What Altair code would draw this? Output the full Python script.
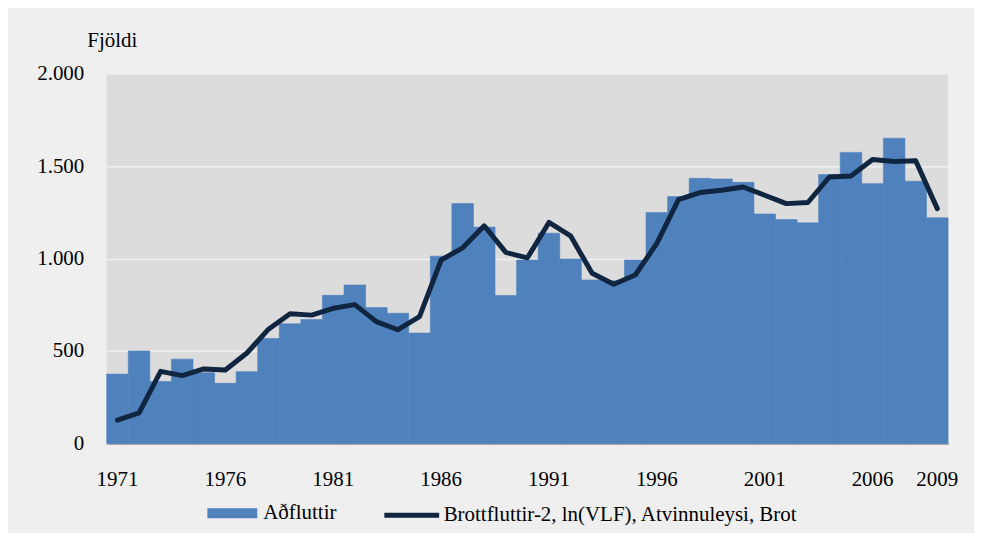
import altair as alt
import pandas as pd

years = list(range(1971, 2010))
adfluttir = [375, 500, 335, 456, 383, 325, 388, 568, 647, 670, 801, 857, 735, 704, 597,
             1013, 1297, 1170, 800, 992, 1137, 997, 884, 880, 992, 1249, 1335, 1434, 1430,
             1412, 1241, 1211, 1193, 1454, 1574, 1405, 1651, 1418, 1220]
brottfluttir = [126, 165, 390, 367, 403, 397, 489, 618, 701, 694, 731, 751, 659, 615, 686,
                992, 1058, 1177, 1033, 1004, 1195, 1123, 920, 861, 911, 1082, 1318, 1357, 1369,
                1387, 1342, 1297, 1303, 1441, 1446, 1535, 1525, 1529, 1270]
tick_years = [1971, 1976, 1981, 1986, 1991, 1996, 2001, 2006, 2009]
y_ticks = [0, 500, 1000, 1500, 2000]
s1 = "Aðfluttir"
s2 = "Brottfluttir-2, ln(VLF), Atvinnuleysi, Brot"

df = pd.DataFrame({"year": years, "adf": adfluttir, "brott": brottfluttir,
                   "s1": s1, "s2": s2})

FONT = "Liberation Serif, Times New Roman, serif"
FS = 21

x = alt.X("year:O", scale=alt.Scale(paddingInner=0, paddingOuter=0),
          axis=alt.Axis(values=tick_years, labelAngle=0, title=None, ticks=False,
                        labelPadding=25, domainColor="#a6a6a6", domainWidth=2))

yaxis = alt.Axis(values=y_ticks, labelExpr="replace(format(datum.value, ','), ',', '.')",
                 title="Fjöldi", titleAngle=0, titleX=-20, titleY=-27, titleAlign="left",
                 titleBaseline="alphabetic", labelPadding=23,
                 domain=False, ticks=False, gridColor="#f0f0f0", gridWidth=1.5)

bars = alt.Chart(df).mark_bar(stroke="#4f81bd", strokeWidth=0.6).encode(
    x=x,
    y=alt.Y("adf:Q", scale=alt.Scale(domain=[0, 2000]), axis=yaxis),
    fill=alt.Fill("s1:N", scale=alt.Scale(domain=[s1], range=["#4f81bd"]),
                  legend=alt.Legend(orient="none", legendX=101, legendY=416, title=None,
                                    padding=0, symbolType="M-1,-0.2H1V0.2H-1Z",
                                    symbolSize=2500, symbolStrokeWidth=0, labelOffset=6,
                                    labelLimit=600, labelFont=FONT, labelFontSize=FS)),
)

line = alt.Chart(df).mark_line(strokeWidth=5, strokeCap="round", strokeJoin="round").encode(
    x=x,
    y=alt.Y("brott:Q"),
    stroke=alt.Stroke("s2:N", scale=alt.Scale(domain=[s2], range=["#10253f"]),
                      legend=alt.Legend(orient="none", legendX=276, legendY=413, title=None,
                                        padding=0, symbolType="stroke", symbolSize=3025,
                                        symbolStrokeWidth=5, labelOffset=2,
                                        labelLimit=600, labelFont=FONT, labelFontSize=FS)),
)

chart = alt.layer(bars, line).properties(
    width=844, height=371,
    autosize=alt.AutoSizeParams(type="none"),
    padding={"left": 99, "top": 65, "right": 26, "bottom": 89},
    background="#efefef",
).configure(font=FONT).configure_view(fill="#dcdcdc", stroke=None).configure_axis(
    labelFont=FONT, labelFontSize=FS, labelColor="#000000",
    titleFont=FONT, titleFontSize=FS, titleFontWeight="normal", titleColor="#000000",
).configure_legend(
    labelFont=FONT, labelFontSize=FS, labelColor="#000000",
)

chart.save("out.html", embed_options={"renderer": "svg", "actions": False})
